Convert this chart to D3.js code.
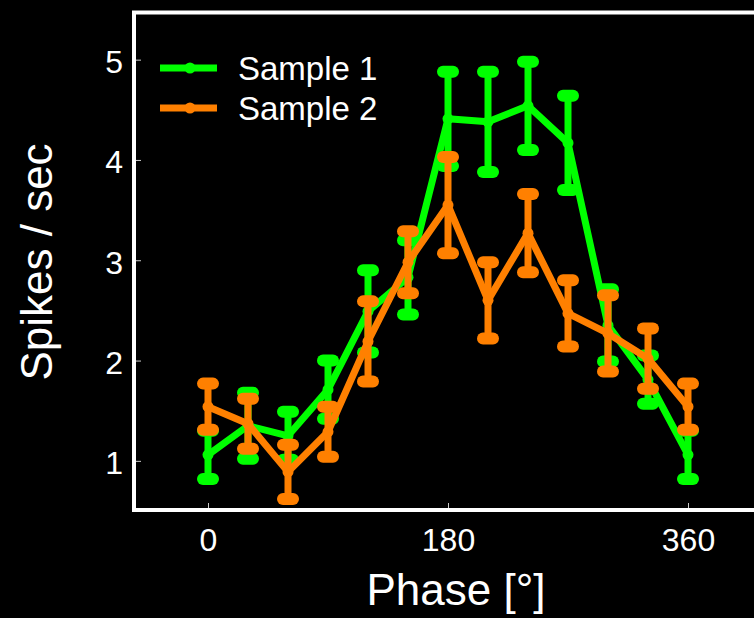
<!DOCTYPE html>
<html>
<head>
<meta charset="utf-8">
<script src="https://cdn.jsdelivr.net/npm/d3@7"></script>
<style>
  html, body { margin: 0; padding: 0; background: #000; overflow: hidden; }
  svg { display: block; }
  text { font-family: "Liberation Sans", Arial, sans-serif; fill: #fff; }
</style>
</head>
<body>
<svg id="chart" width="754" height="618"></svg>
<script>
const phase = [0, 30, 60, 90, 120, 150, 180, 210, 240, 270, 300, 330, 360];
const sample1Mean = [1.06, 1.35, 1.25, 1.71, 2.49, 2.83, 4.41, 4.38, 4.54, 4.17, 2.35, 1.81, 1.06];
const sample1Err  = [0.24, 0.33, 0.24, 0.29, 0.41, 0.37, 0.47, 0.50, 0.44, 0.47, 0.36, 0.24, 0.24];
const sample2Mean = [1.54, 1.37, 0.89, 1.29, 2.19, 2.98, 3.55, 2.60, 3.27, 2.47, 2.27, 2.02, 1.54];
const sample2Err  = [0.23, 0.25, 0.27, 0.25, 0.40, 0.31, 0.48, 0.38, 0.39, 0.33, 0.38, 0.30, 0.23];
const seriesNames = ["Sample 1", "Sample 2"];
const xTicks = [0, 180, 360];
const yTicks = [1, 2, 3, 4, 5];
const xLabel = "Phase [°]";
const yLabel = "Spikes / sec";

const colors = ["#00ff00", "#ff8000"];
const svg = d3.select("#chart");

const frame = { left: 134, right: 790, top: 12.5, bottom: 510 };
const x = d3.scaleLinear().domain([0, 360]).range([208, 688]);
const y = d3.scaleLinear().domain([0.51, 5.47]).range([frame.bottom, frame.top]);

// frame
svg.append("rect")
  .attr("x", frame.left).attr("y", frame.top)
  .attr("width", frame.right - frame.left).attr("height", frame.bottom - frame.top)
  .attr("fill", "none").attr("stroke", "#fff").attr("stroke-width", 4);

// x axis (inward ticks)
const xAxis = d3.axisBottom(x).tickValues(xTicks).tickSize(-5).tickPadding(0).tickFormat(d3.format("d"));
const gx = svg.append("g").attr("transform", `translate(0,${frame.bottom - 2})`).call(xAxis);
gx.select(".domain").remove();
gx.selectAll(".tick line").attr("stroke", "#ccc").attr("stroke-width", 1);
gx.selectAll(".tick text").attr("font-size", 32).attr("dy", null).attr("y", 43)
  .attr("fill", "#fff").style("font-family", '"Liberation Sans", Arial, sans-serif');

// y axis (inward ticks)
const yAxis = d3.axisLeft(y).tickValues(yTicks).tickSize(-5).tickPadding(0).tickFormat(d3.format("d"));
const gy = svg.append("g").attr("transform", `translate(${frame.left + 2},0)`).call(yAxis);
gy.select(".domain").remove();
gy.selectAll(".tick line").attr("stroke", "#ccc").attr("stroke-width", 1);
gy.selectAll(".tick text").attr("font-size", 32).attr("dy", null).attr("x", -13).attr("y", 13)
  .attr("text-anchor", "end")
  .attr("fill", "#fff").style("font-family", '"Liberation Sans", Arial, sans-serif');

// axis labels
svg.append("text").attr("x", 456).attr("y", 605).attr("text-anchor", "middle")
  .attr("font-size", 44).text(xLabel);
svg.append("text").attr("transform", "translate(52,262) rotate(-90)")
  .attr("text-anchor", "middle").attr("font-size", 44).text(yLabel);

// series
const series = [
  { name: seriesNames[0], mean: sample1Mean, err: sample1Err, color: colors[0] },
  { name: seriesNames[1], mean: sample2Mean, err: sample2Err, color: colors[1] }
];

const line = d3.line().x(d => x(d.p)).y(d => y(d.m));

series.forEach(s => {
  const data = phase.map((p, i) => ({ p, m: s.mean[i], e: s.err[i] }));
  const g = svg.append("g");
  // error bars
  g.selectAll("line.eb").data(data).join("line").attr("class", "eb")
    .attr("x1", d => x(d.p)).attr("x2", d => x(d.p))
    .attr("y1", d => y(d.m - d.e)).attr("y2", d => y(d.m + d.e))
    .attr("stroke", s.color).attr("stroke-width", 7);
  ["lo", "hi"].forEach(k => {
    g.selectAll("line.cap" + k).data(data).join("line").attr("class", "cap" + k)
      .attr("x1", d => x(d.p) - 5).attr("x2", d => x(d.p) + 5)
      .attr("y1", d => y(k === "lo" ? d.m - d.e : d.m + d.e))
      .attr("y2", d => y(k === "lo" ? d.m - d.e : d.m + d.e))
      .attr("stroke", s.color).attr("stroke-width", 12).attr("stroke-linecap", "round");
  });
  g.append("path").datum(data).attr("d", line)
    .attr("fill", "none").attr("stroke", s.color).attr("stroke-width", 7)
    .attr("stroke-linejoin", "round");
  g.selectAll("circle").data(data).join("circle")
    .attr("cx", d => x(d.p)).attr("cy", d => y(d.m)).attr("r", 5.5)
    .attr("fill", s.color);
});

// legend
const legend = svg.append("g");
series.forEach((s, i) => {
  const ly = 68 + i * 40;
  legend.append("line").attr("x1", 160).attr("x2", 217).attr("y1", ly).attr("y2", ly)
    .attr("stroke", s.color).attr("stroke-width", 7);
  legend.append("circle").attr("cx", 190).attr("cy", ly).attr("r", 5.5).attr("fill", s.color);
  legend.append("text").attr("x", 238).attr("y", ly + 12).attr("font-size", 33).text(s.name);
});
</script>
</body>
</html>
